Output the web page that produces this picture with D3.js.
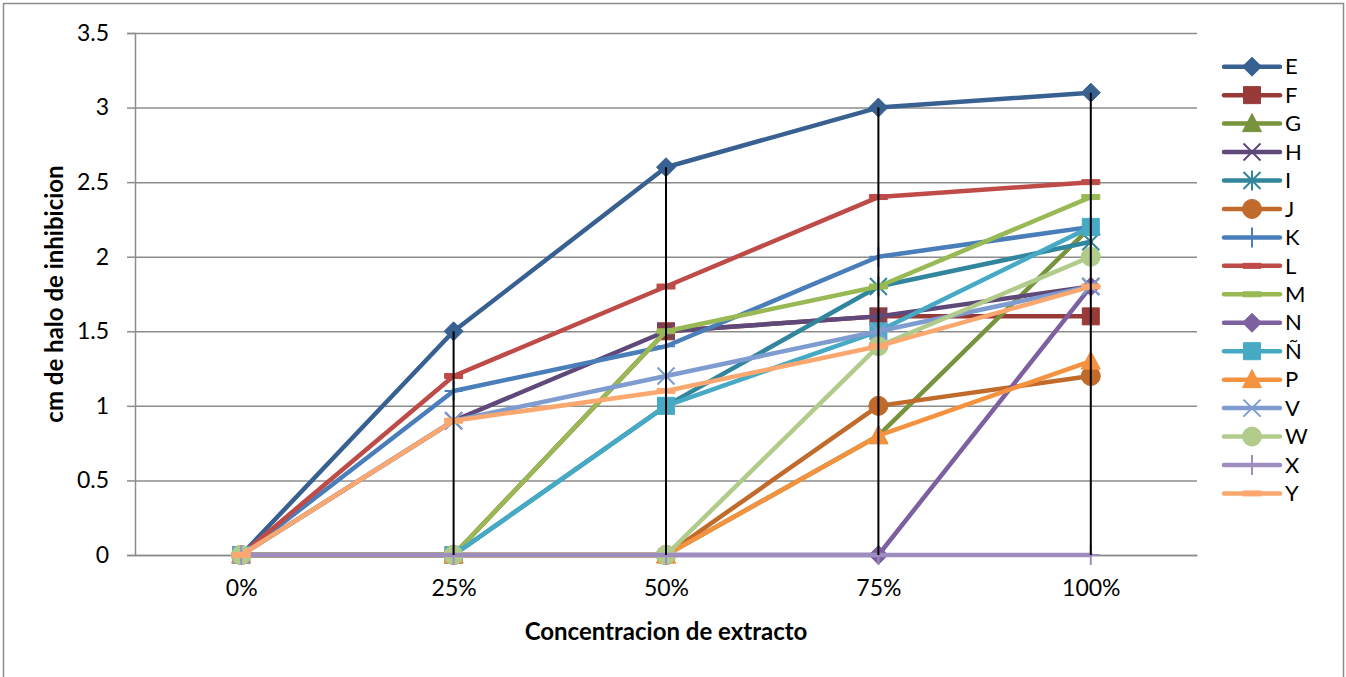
<!DOCTYPE html>
<html>
<head>
<meta charset="utf-8">
<script src="https://cdn.jsdelivr.net/npm/d3@7"></script>
<style>
  html, body { margin: 0; padding: 0; background: #fff; }
  svg { display: block; }
  text { font-family: Lato, "Open Sans", sans-serif; fill: #000; }
</style>
</head>
<body>
<svg id="chart" width="1346" height="677"></svg>
<script>
// Concentrations tested (x categories)
const categories = ["0%", "25%", "50%", "75%", "100%"];
const yTicks = [0, 0.5, 1, 1.5, 2, 2.5, 3, 3.5];

// Inhibition halo (cm) per strain
const seriesNames = ["E", "F", "G", "H", "I", "J", "K", "L", "M", "N", "Ñ", "P", "V", "W", "X", "Y"];
const E = [0, 1.5, 2.6, 3.0, 3.1];
const F = [0, 0, 1.5, 1.6, 1.6];
const G = [0, 0, 0, 0.8, 2.2];
const H = [0, 0.9, 1.5, 1.6, 1.8];
const I = [0, 0, 1.0, 1.8, 2.1];
const J = [0, 0, 0, 1.0, 1.2];
const K = [0, 1.1, 1.4, 2.0, 2.2];
const L = [0, 1.2, 1.8, 2.4, 2.5];
const M = [0, 0, 1.5, 1.8, 2.4];
const N = [0, 0, 0, 0, 1.8];
const NN = [0, 0, 1.0, 1.5, 2.2];
const P = [0, 0, 0, 0.8, 1.3];
const V = [0, 0.9, 1.2, 1.5, 1.8];
const W = [0, 0, 0, 1.4, 2.0];
const X = [0, 0, 0, 0, 0];
const Y = [0, 0.9, 1.1, 1.4, 1.8];
const seriesValues = [E, F, G, H, I, J, K, L, M, N, NN, P, V, W, X, Y];

const seriesColors = ["#386192", "#983a37", "#77933c", "#5f497a", "#31859c", "#c06a2b",
                      "#4a7ebb", "#be4b48", "#98b954", "#7d60a0", "#46aac5", "#f59240",
                      "#7e9ccf", "#b1cb8a", "#9e8dbe", "#faa86f"];
const seriesMarkers = ["diamond", "square", "triangle", "x", "star", "circle",
                       "plus", "dash", "dash", "diamond", "square", "triangle",
                       "x", "circle", "plus", "dash"];

const svg = d3.select("#chart");

// outer chart frame
svg.append("rect")
  .attr("x", 3.5).attr("y", 3.5).attr("width", 1340).attr("height", 690)
  .attr("fill", "#fff").attr("stroke", "#8c8c8c").attr("stroke-width", 1.5);

const plot = { left: 135, right: 1197, top: 33, bottom: 555 };

const x = d3.scalePoint().domain(categories).range([plot.left, plot.right]).padding(0.5);
const y = d3.scaleLinear().domain([0, 3.5]).range([plot.bottom, plot.top]);

// horizontal gridlines
svg.append("g")
  .attr("transform", `translate(${plot.left},0)`)
  .call(d3.axisLeft(y).tickValues(yTicks).tickSize(-(plot.right - plot.left)).tickFormat(""))
  .call(g => g.select(".domain").remove())
  .call(g => g.selectAll("line").attr("stroke", "#8c8c8c").attr("stroke-width", 1.5));

// value axis
svg.append("g")
  .attr("transform", `translate(${plot.left},0)`)
  .call(d3.axisLeft(y).tickValues(yTicks).tickSize(8).tickPadding(18).tickFormat(d => String(d)))
  .call(g => g.select(".domain").attr("stroke", "#8c8c8c").attr("stroke-width", 1.5))
  .call(g => g.selectAll(".tick line").attr("stroke", "#8c8c8c").attr("stroke-width", 1.5))
  .call(g => g.selectAll("text").attr("font-family", "Lato, sans-serif").attr("font-size", 23).attr("fill", "#000"));

// category axis
svg.append("g")
  .attr("transform", `translate(0,${plot.bottom})`)
  .call(d3.axisBottom(x).tickSize(0).tickPadding(25))
  .call(g => g.select(".domain").attr("stroke", "#8c8c8c").attr("stroke-width", 1.5))
  .call(g => g.selectAll("text").attr("font-family", "Lato, sans-serif").attr("font-size", 23).attr("fill", "#000"));

// marker shapes
function markerPath(type) {
  switch (type) {
    case "diamond": return "M0,-9.5L9.5,0L0,9.5L-9.5,0Z";
    case "square": return "M-8.5,-8.5H8.5V8.5H-8.5Z";
    case "triangle": return "M0,-10L9.5,8L-9.5,8Z";
    case "x": return "M-8.5,-8.5L8.5,8.5M8.5,-8.5L-8.5,8.5";
    case "star": return "M-8.5,-8.5L8.5,8.5M8.5,-8.5L-8.5,8.5M0,-10V10";
    case "plus": return "M0,-10V10M-9,0H9";
    case "dash": return "M-9,-2.5H9V2.5H-9Z";
    default: return null;
  }
}
function drawMarker(g, type, color) {
  if (type === "circle") {
    return g.append("circle").attr("r", 9.5).attr("fill", color).attr("stroke", color).attr("stroke-width", 1);
  }
  const open = (type === "x" || type === "star" || type === "plus");
  return g.append("path").attr("d", markerPath(type))
    .attr("fill", open ? "none" : color)
    .attr("stroke", color)
    .attr("stroke-width", open ? 2 : 1)
    .attr("stroke-linejoin", "miter");
}

const line = d3.line().x((d, i) => x(categories[i])).y(d => y(d));

// series, each drawn line then markers
const seriesG = svg.append("g");
seriesValues.forEach((vals, s) => {
  const g = seriesG.append("g");
  g.append("path").datum(vals).attr("d", line)
    .attr("fill", "none").attr("stroke", seriesColors[s]).attr("stroke-width", 4.5)
    .attr("stroke-linejoin", "round").attr("stroke-linecap", "round");
  vals.forEach((v, i) => {
    const m = g.append("g").attr("transform", `translate(${x(categories[i])},${y(v)})`);
    drawMarker(m, seriesMarkers[s], seriesColors[s]);
  });
});

// high-low lines at each concentration
categories.forEach((c, i) => {
  const col = seriesValues.map(v => v[i]);
  const hi = d3.max(col), lo = d3.min(col);
  if (hi > lo) {
    svg.append("line").attr("x1", x(c)).attr("x2", x(c)).attr("y1", y(hi)).attr("y2", y(lo))
      .attr("stroke", "#000").attr("stroke-width", 2);
  }
});

// axis titles
svg.append("text")
  .attr("x", (plot.left + plot.right) / 2).attr("y", 640)
  .attr("text-anchor", "middle").attr("font-weight", "bold").attr("font-size", 24)
  .text("Concentracion de extracto");
svg.append("text")
  .attr("transform", `translate(63,${(plot.top + plot.bottom) / 2}) rotate(-90)`)
  .attr("text-anchor", "middle").attr("font-weight", "bold").attr("font-size", 24)
  .text("cm de halo de inhibicion");

// legend
const legend = svg.append("g").attr("transform", "translate(1224,66.7)");
seriesNames.forEach((name, s) => {
  const g = legend.append("g").attr("transform", `translate(0,${s * 28.45})`);
  g.append("line").attr("x1", 0).attr("x2", 56).attr("y1", 0).attr("y2", 0)
    .attr("stroke", seriesColors[s]).attr("stroke-width", 4.5).attr("stroke-linecap", "round");
  const m = g.append("g").attr("transform", "translate(28,0)");
  drawMarker(m, seriesMarkers[s], seriesColors[s]);
  g.append("text").attr("x", 61).attr("y", 0).attr("dy", "0.35em")
    .attr("font-size", 22).text(name);
});
</script>
</body>
</html>
